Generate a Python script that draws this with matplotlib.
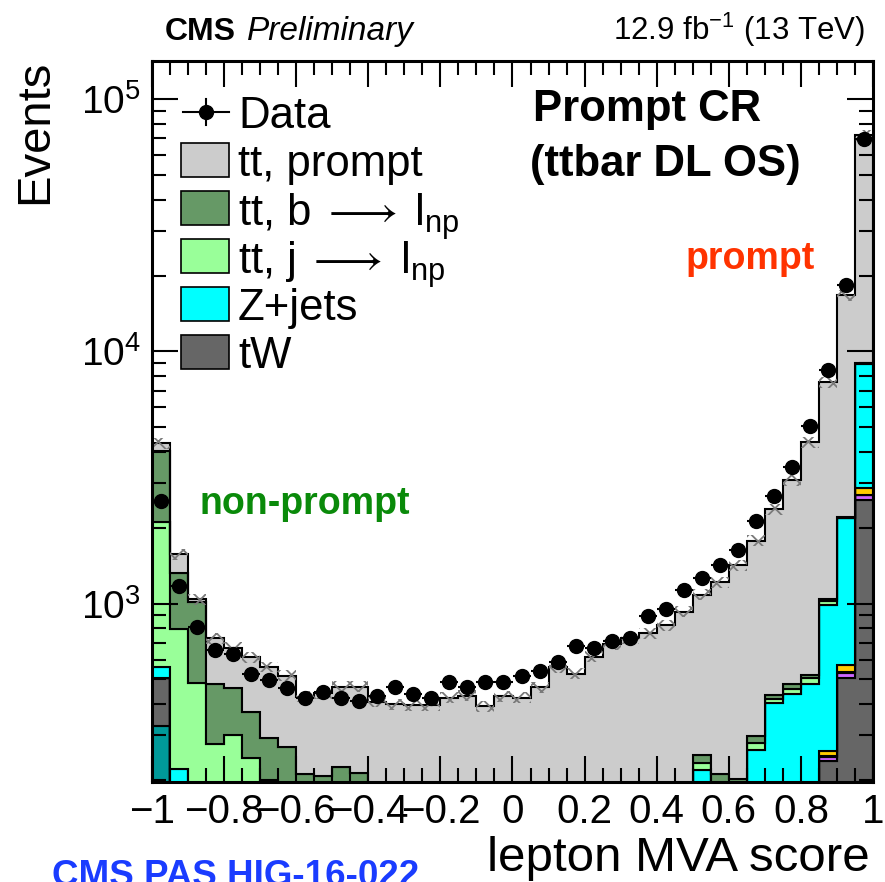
import matplotlib
matplotlib.use("Agg")
import matplotlib.pyplot as plt
import numpy as np
from matplotlib.patches import Rectangle
from matplotlib.lines import Line2D
from matplotlib.ticker import MultipleLocator, LogLocator, NullFormatter

plt.rcParams['font.family'] = ['Liberation Sans', 'DejaVu Sans']
plt.rcParams['mathtext.fontset'] = 'custom'
plt.rcParams['mathtext.rm'] = 'Liberation Sans'
plt.rcParams['mathtext.it'] = 'Liberation Sans:italic'
plt.rcParams['mathtext.bf'] = 'Liberation Sans:bold'
plt.rcParams['mathtext.fallback'] = 'stixsans'
plt.rcParams['hatch.linewidth'] = 1.3

narrow = ['Liberation Sans Narrow', 'Liberation Sans', 'DejaVu Sans']

# lepton MVA binning: 40 bins from -1 to 1
edges = np.linspace(-1, 1, 41)

# stacked MC yields per bin, bottom to top
other = [326] + [0] * 39
tw = [183] + [0] * 36 + [238, 508, 2564]
vv = [0] * 37 + [8, 21, 120]
ttx = [0] * 37 + [3, 6, 14]
ttv = [0] * 37 + [11, 35, 167]
zjets = [52, 221] + [0] * 28 + [219, 150, 140, 262, 403, 436, 479, 728, 1607, 6089]
tt_j = [1552, 569, 483, 277, 301, 243, 200, 150, 130, 120, 110, 100,
        60, 50, 45, 40, 35, 35, 30, 30, 30, 30, 30, 30, 35, 40, 45, 50, 60, 70,
        15, 25, 25, 17, 17, 23, 26, 33, 10, 30]
tt_b = [1925, 535, 534, 201, 160, 130, 92, 120, 80, 87, 115, 113,
        60, 55, 50, 45, 40, 40, 35, 35, 30, 30, 30, 30, 30, 30, 30, 30, 40, 45,
        16, 36, 37, 20, 12, 20, 14, 21, 10, 30]
tt_prompt = [287, 246, 25, 250, 207, 239, 269, 247, 217, 233, 243, 255,
             288, 294, 301, 311, 349, 356, 327, 365, 364, 405, 498, 468, 550, 620,
             653, 682, 720, 815, 836, 1002, 1215, 1476, 1933, 2607, 3852, 6498,
             14560, 63286]

data = [2552, 1177, 809, 653, 631, 528, 497, 461, 421, 446, 422, 411, 430, 465,
        436, 423, 489, 468, 489, 489, 517, 538, 585, 681, 668, 710, 728, 892,
        948, 1135, 1263, 1417, 1636, 2117, 2663, 3490, 5047, 8420, 18320, 69500]

mc_rel_unc = 0.05

stack = [
    (other, '#009999'),
    (tw, '#666666'),
    (vv, '#cc66ff'),
    (ttx, '#ff0000'),
    (ttv, '#ffcc00'),
    (zjets, '#00ffff'),
    (tt_j, '#99ff99'),
    (tt_b, '#669966'),
    (tt_prompt, '#cccccc'),
]

fig = plt.figure(figsize=(8.85, 8.82), dpi=100)
ax = fig.add_axes([152 / 885, 1 - 782 / 882, 721 / 885, 721 / 882])

bottom = np.zeros(40)
for vals, col in stack:
    top = bottom + np.array(vals, dtype=float)
    ax.stairs(top, edges, baseline=bottom, fill=True, facecolor=col,
              edgecolor='black', linewidth=1.5)
    bottom = top

# MC uncertainty band
total = bottom
ax.stairs(total * (1 + mc_rel_unc), edges, baseline=total * (1 - mc_rel_unc),
          fill=True, facecolor='none', edgecolor='#7a7a7a', hatch='xx',
          linewidth=0)

centers = 0.5 * (edges[:-1] + edges[1:])
data = np.array(data, dtype=float)
ax.errorbar(centers, data, xerr=0.025, yerr=np.sqrt(data), fmt='o', color='black',
            ms=10, elinewidth=1.5, capsize=0, zorder=5)

ax.set_yscale('log')
ax.set_xlim(-1, 1)
ax.set_ylim(196, 1.42e5)

ax.xaxis.set_minor_locator(MultipleLocator(0.05))
ax.yaxis.set_major_locator(LogLocator(base=10))
ax.yaxis.set_minor_locator(LogLocator(base=10, subs=np.arange(2, 10)))
ax.yaxis.set_minor_formatter(NullFormatter())
ax.set_xticks(np.arange(-1, 1.01, 0.2))
ax.set_xticklabels(['\u22121', '\u22120.8', '\u22120.6', '\u22120.4', '\u22120.2',
                    '0', '0.2', '0.4', '0.6', '0.8', '1'])
ax.tick_params(which='both', direction='in', top=True, right=True, width=1.5)
ax.tick_params(which='major', length=19, labelsize=28, pad=8)
ax.tick_params(which='minor', length=10)
for lab in ax.get_xticklabels():
    lab.set_family(narrow)
    lab.set_fontsize(29)
for sp in ax.spines.values():
    sp.set_linewidth(2.2)

# legend
arrow = '$\\;\\longrightarrow\\;$l'
leg_rows = [('Data', None),
            ('tt, prompt', '#cccccc'),
            ('tt, b' + arrow + '$_{\\mathregular{np}}$', '#669966'),
            ('tt, j' + arrow + '$_{\\mathregular{np}}$', '#99ff99'),
            ('Z+jets', '#00ffff'),
            ('tW', '#666666')]
for i, (lab, col) in enumerate(leg_rows):
    yc = 1 - (112 + 48 * i) / 882
    if col is None:
        fig.add_artist(Line2D([183 / 885, 229 / 885], [yc, yc], color='black', lw=1.5))
        fig.add_artist(Line2D([206 / 885, 206 / 885], [yc - 13 / 882, yc + 13 / 882],
                              color='black', lw=1.5))
        fig.add_artist(Line2D([206 / 885], [yc], marker='o', ms=10, color='black'))
    else:
        fig.add_artist(Rectangle((181 / 885, yc - 17 / 882), 48 / 885, 34 / 882,
                                 facecolor=col, edgecolor='black', lw=1.2))
    fig.text(238 / 885, yc, lab, fontsize=31.5, va='center_baseline', ha='left')

fig.text(533 / 885, 1 - 105 / 882, 'Prompt CR', fontsize=31.5, fontweight='bold',
         va='center_baseline')
fig.text(530 / 885, 1 - 160 / 882, '(ttbar DL OS)', fontsize=31.5, fontweight='bold',
         va='center_baseline')
fig.text(686 / 885, 1 - 255 / 882, 'prompt', fontsize=27, fontweight='bold',
         color='#ff3300', va='center_baseline')
fig.text(200 / 885, 1 - 500 / 882, 'non-prompt', fontsize=27, fontweight='bold',
         color='#0a8a0a', va='center_baseline')

# header
fig.text(165 / 885, 1 - 40 / 882, 'CMS', fontsize=23, fontweight='bold', family=narrow)
fig.text(247 / 885, 1 - 40 / 882, 'Preliminary', fontsize=24, style='italic', family=narrow)
fig.text(865 / 885, 1 - 40 / 882, '12.9 fb$^{\\mathregular{-1}}$ (13 TeV)', fontsize=22.5,
         ha='right', family=narrow)

fig.text(35 / 885, 1 - 60 / 882, 'Events', rotation=90, fontsize=34, ha='center',
         va='top', family=narrow)
fig.text(870 / 885, 1 - 871 / 882, 'lepton MVA score', fontsize=35.5, ha='right',
         va='baseline', family=narrow)
fig.text(52 / 885, 1 - 886 / 882, 'CMS PAS HIG-16-022', fontsize=26.5, fontweight='bold',
         color='#1a3cff', family=narrow)

fig.savefig('out.png', dpi=100)
